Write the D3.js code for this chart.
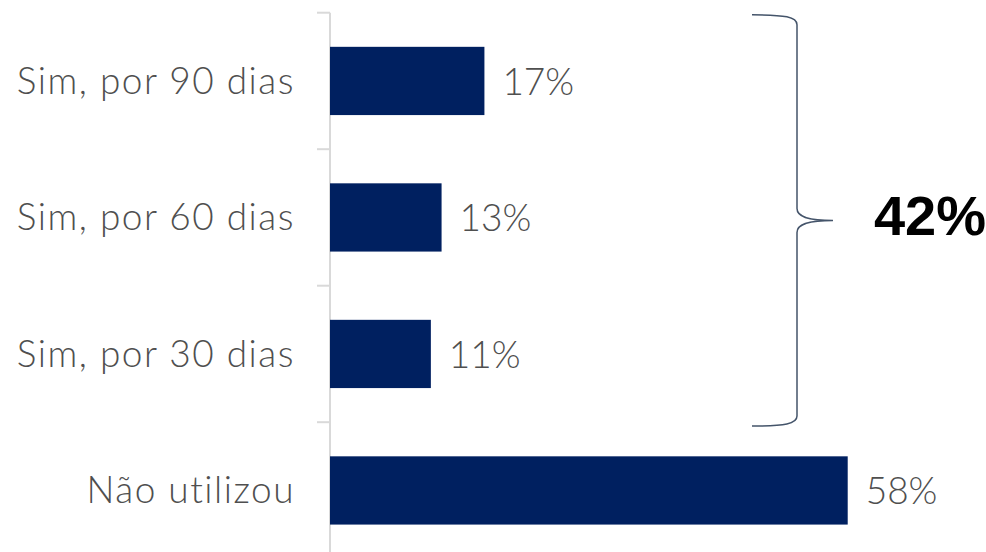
<!DOCTYPE html>
<html><head><meta charset="utf-8">
<script src="https://cdn.jsdelivr.net/npm/d3@7"></script>
<style>body{margin:0;background:#fff}svg{display:block}</style>
</head><body>
<svg id="c" width="986" height="552"></svg>
<script>
const categories = ["Sim, por 90 dias", "Sim, por 60 dias", "Sim, por 30 dias", "Não utilizou"];
const values = [17.3, 12.5, 11.3, 58.0];
const valueLabels = ["17%", "13%", "11%", "58%"];
const groupLabel = "42%";
const groupedCategories = ["Sim, por 90 dias", "Sim, por 60 dias", "Sim, por 30 dias"];

(function () {
const svg = d3.select("#c");
const font = "Lato, 'DejaVu Sans', sans-serif";
const y = d3.scaleBand().domain(categories).range([12.7, 558.7]).paddingInner(0.5).paddingOuter(0.25);
const x = d3.scaleLinear().domain([0, 100]).range([330, 1222.6]);

const step = y.step();
const bounds = categories.map((c, i) => y.range()[0] + i * step);
svg.append("line").attr("x1", 330).attr("x2", 330).attr("y1", bounds[0]).attr("y2", 552)
  .attr("stroke", "#d9d9d9").attr("stroke-width", 2);
svg.selectAll(".tk").data(bounds).join("line")
  .attr("x1", 317).attr("x2", 330).attr("y1", d => d).attr("y2", d => d)
  .attr("stroke", "#d9d9d9").attr("stroke-width", 2);

svg.selectAll(".bar").data(categories).join("rect")
  .attr("x", x(0)).attr("y", d => y(d)).attr("width", (d, i) => x(values[i]) - x(0))
  .attr("height", y.bandwidth()).attr("fill", "#002060");

svg.selectAll(".cl").data(categories).join("text")
  .attr("x", 295).attr("y", d => y(d) + y.bandwidth() / 2 + 13)
  .attr("text-anchor", "end").attr("font-family", font).attr("font-weight", 300)
  .attr("font-size", 37).attr("letter-spacing", 1.5)
  .attr("fill", "#4f4f4f").text(d => d);

svg.selectAll(".vl").data(categories).join("text")
  .attr("x", (d, i) => x(values[i]) + 18).attr("y", d => y(d) + y.bandwidth() / 2 + 14)
  .attr("font-family", font).attr("font-weight", 300).attr("font-size", 37)
  .attr("fill", "#4f4f4f").text((d, i) => valueLabels[i]);

const yTop = y(groupedCategories[0]) - 32;
const yBot = y(groupedCategories[groupedCategories.length - 1]) + y.bandwidth() + 38;
const mid = (yTop + yBot) / 2;
const bx = 797, lx = 752, tx = 833;
const p = `M${lx},${yTop} C${bx - 12},${yTop} ${bx},${yTop + 2} ${bx},${yTop + 10}
 L${bx},${mid - 12} C${bx},${mid - 4} ${bx + 10},${mid} ${tx},${mid}
 C${bx + 10},${mid} ${bx},${mid + 4} ${bx},${mid + 12}
 L${bx},${yBot - 10} C${bx},${yBot - 2} ${bx - 12},${yBot} ${lx},${yBot}`;
svg.append("path").attr("d", p).attr("fill", "none").attr("stroke", "#44546a").attr("stroke-width", 1.5);

svg.append("text").attr("x", 986).attr("y", mid + 15).attr("text-anchor", "end")
  .attr("font-family", "'Liberation Sans', Arial, sans-serif").attr("font-weight", "bold")
  .attr("font-size", 56).attr("fill", "#000").text(groupLabel);
})();
</script>
</body></html>
